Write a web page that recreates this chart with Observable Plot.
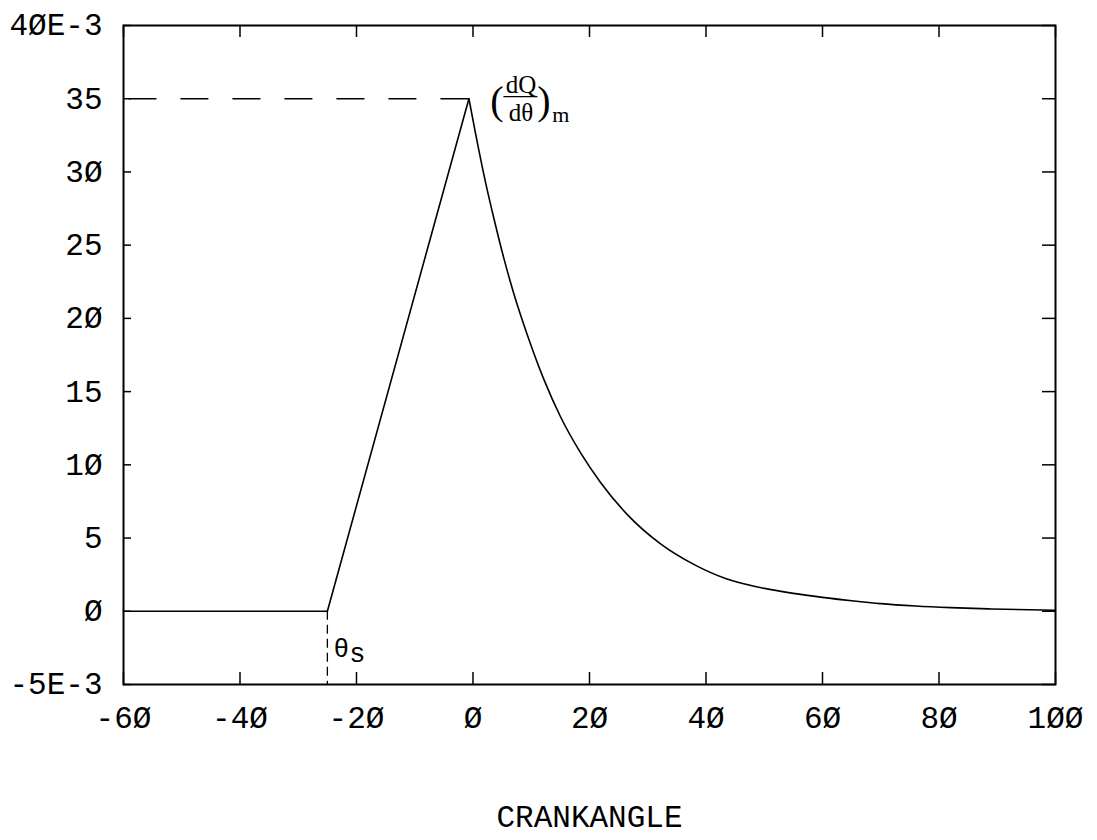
<!DOCTYPE html>
<html>
<head>
<meta charset="utf-8">
<script src="https://cdn.jsdelivr.net/npm/d3@7"></script>
<script src="https://cdn.jsdelivr.net/npm/@observablehq/plot@0.6"></script>
<style>
  html, body { margin: 0; padding: 0; background: #fff; }
</style>
</head>
<body>
<script>
// Heat release rate vs crank angle (values in units of 1E-3)
const crankAngle = [-60, -25, -0.7, 0.45, 2.2, 3.6, 5.3, 7.0, 9.3, 12.2, 15.0, 18.5, 21.9, 26.5, 32.2, 37.9, 43.6, 49.3, 55, 60, 65, 70, 76, 82, 89, 100];
const heatRate   = [0, 0, 35, 32.6, 29.2, 26.8, 24.1, 21.7, 18.9, 15.8, 13.3, 10.8, 8.8, 6.6, 4.6, 3.2, 2.2, 1.62, 1.22, 0.95, 0.72, 0.52, 0.36, 0.25, 0.16, 0.07];

// Start of combustion and the peak rate
const startAngle = -25;
const peakAngle = -0.7;
const peakRate = 35;

// Axes (the plotter font draws zero with a slash)
const xDomain = [-60, 100];
const yDomain = [-5, 40];
const xTicks = [-60, -40, -20, 0, 20, 40, 60, 80, 100];
const xTickLabels = ["-6Ø", "-4Ø", "-2Ø", "Ø", "2Ø", "4Ø", "6Ø", "8Ø", "1ØØ"];
const yTicks = [-5, 0, 5, 10, 15, 20, 25, 30, 35, 40];
const yTickLabels = ["-5E-3", "Ø", "5", "1Ø", "15", "2Ø", "25", "3Ø", "35", "4ØE-3"];
const xTitle = "CRANKANGLE";

const data = crankAngle.map((x, i) => ({x, y: heatRate[i]}));
const rising = data.filter(d => d.x <= peakAngle);
const decay = data.filter(d => d.x >= peakAngle);

const plotter = "Liberation Mono, DejaVu Sans Mono, monospace";
const serif = "Liberation Serif, Times New Roman, serif";

const chart = Plot.plot({
  width: 1097,
  height: 840,
  marginTop: 25,
  marginRight: 42,
  marginBottom: 156,
  marginLeft: 123,
  x: {domain: xDomain},
  y: {domain: yDomain},
  style: {background: "#fff", color: "#000", fontFamily: plotter},
  marks: [
    // tick labels
    Plot.axisX(xTicks, {anchor: "bottom", tickSize: 0, tickPadding: 21, label: null,
      tickFormat: d => xTickLabels[xTicks.indexOf(d)], fontSize: 31, fontFamily: plotter}),
    Plot.axisY(yTicks, {anchor: "left", tickSize: 0, tickPadding: 21, label: null,
      tickFormat: d => yTickLabels[yTicks.indexOf(d)], fontSize: 31, fontFamily: plotter}),
    // inward ticks on all four sides
    Plot.axisX(xTicks, {anchor: "bottom", tickSize: -12, fill: "none", label: null, strokeWidth: 1.5}),
    Plot.axisX(xTicks, {anchor: "top", tickSize: -11, fill: "none", label: null, strokeWidth: 1.5}),
    Plot.axisY(yTicks, {anchor: "left", tickSize: -8, fill: "none", label: null, strokeWidth: 1.5}),
    Plot.axisY(yTicks, {anchor: "right", tickSize: -14, fill: "none", label: null, strokeWidth: 1.5}),
    Plot.frame({strokeWidth: 2}),
    // reference lines
    Plot.ruleY([peakRate], {x1: peakAngle, x2: xDomain[0], strokeWidth: 1.6, strokeDasharray: "28,24"}),
    Plot.ruleX([startAngle], {y1: 0, y2: yDomain[0], strokeWidth: 1.3, strokeDasharray: "9,5"}),
    // heat release curve
    Plot.line(rising, {x: "x", y: "y", strokeWidth: 1.6}),
    Plot.line(decay, {x: "x", y: "y", strokeWidth: 1.6, curve: "monotone-x"}),
    // peak annotation (dQ/dθ)m
    Plot.text([0], {x: peakAngle, y: peakRate, text: () => "(", fontFamily: serif, fontSize: 40, dx: 28, dy: 2}),
    Plot.text([0], {x: peakAngle, y: peakRate, text: () => "dQ", fontFamily: serif, fontSize: 25, dx: 52, dy: -14}),
    Plot.ruleY([peakRate], {x1: peakAngle, x2: peakAngle, insetLeft: 35, insetRight: -69, dy: -2, strokeWidth: 1.3}),
    Plot.text([0], {x: peakAngle, y: peakRate, text: () => "d\u03b8", fontFamily: serif, fontSize: 25, dx: 52, dy: 14}),
    Plot.text([0], {x: peakAngle, y: peakRate, text: () => ")", fontFamily: serif, fontSize: 40, dx: 75, dy: 2}),
    Plot.text([0], {x: peakAngle, y: peakRate, text: () => "m", fontFamily: serif, fontSize: 22, dx: 92, dy: 16}),
    // start-of-combustion label θs
    Plot.text([0], {x: startAngle, y: 0, text: () => "\u03b8", fontSize: 26, fontFamily: plotter, dx: 14, dy: 37}),
    Plot.text([0], {x: startAngle, y: 0, text: () => "s", fontSize: 27, fontFamily: plotter, dx: 30, dy: 42}),
    // x-axis title
    Plot.text([xTitle], {frameAnchor: "bottom", lineAnchor: "middle", text: d => d, dy: 133, fontSize: 31, fontFamily: plotter})
  ]
});

document.body.appendChild(chart);
</script>
</body>
</html>
